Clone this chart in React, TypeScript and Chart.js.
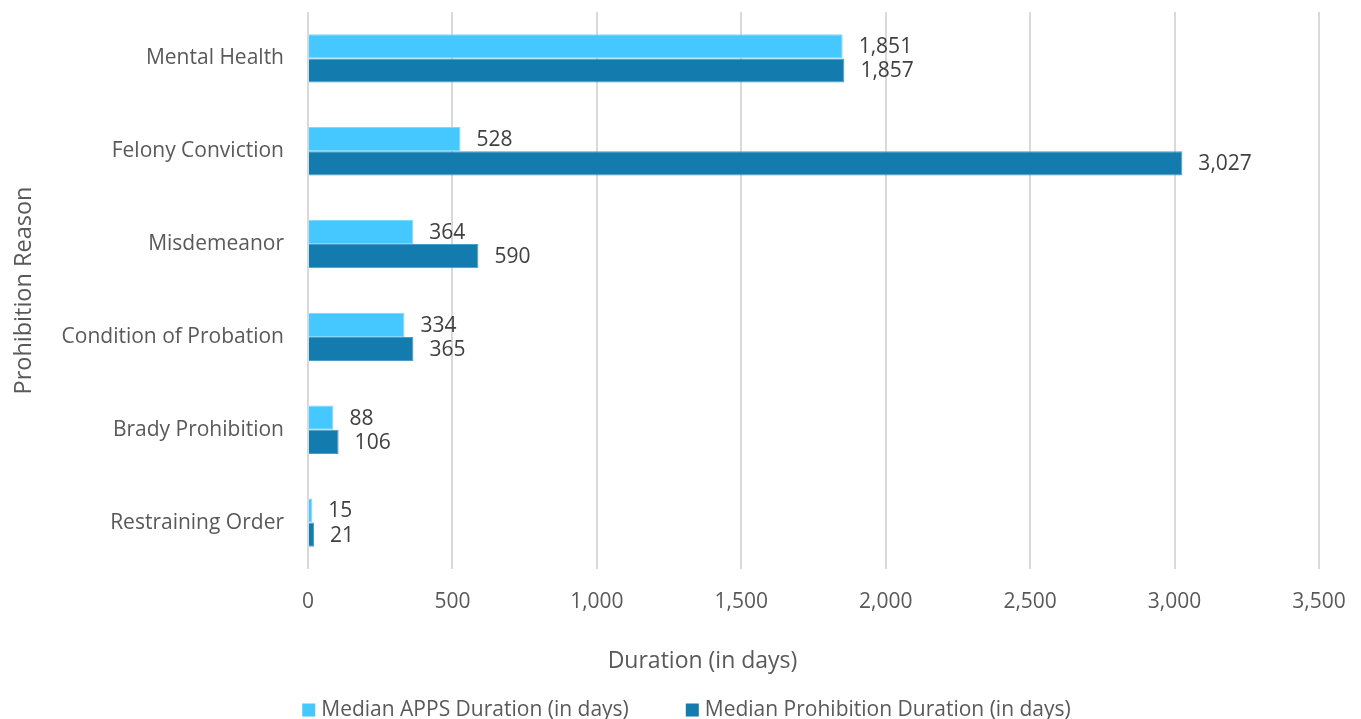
import React, { useEffect, useRef } from "react";
import { Chart, registerables } from "chart.js";

Chart.register(...registerables);

const categories = [
  "Mental Health",
  "Felony Conviction",
  "Misdemeanor",
  "Condition of Probation",
  "Brady Prohibition",
  "Restraining Order",
];
const appsDuration = [1851, 528, 364, 334, 88, 15];
const prohibitionDuration = [1857, 3027, 590, 365, 106, 21];
const seriesNames = [
  "Median APPS Duration (in days)",
  "Median Prohibition Duration (in days)",
];
const xTitle = "Duration (in days)";
const yTitle = "Prohibition Reason";

const FONT = "'Open Sans', 'Noto Sans', sans-serif";
const TEXT = "#595959";
const LABEL_TEXT = "#404040";
const LIGHT = "#45C8FF";
const DARK = "#137BAD";

const fmt = (v: number) => v.toLocaleString("en-US");

// Writes each bar's value just past its end.
const valueLabels = {
  id: "valueLabels",
  afterDatasetsDraw(chart: any) {
    const ctx = chart.ctx;
    ctx.save();
    ctx.font = `21px ${FONT}`;
    ctx.fillStyle = LABEL_TEXT;
    ctx.textAlign = "left";
    ctx.textBaseline = "middle";
    chart.data.datasets.forEach((ds: any, i: number) => {
      const meta = chart.getDatasetMeta(i);
      meta.data.forEach((el: any, j: number) => {
        ctx.fillText(fmt(ds.data[j]), el.x + 16, el.y + 1);
      });
    });
    ctx.restore();
  },
};

// Horizontal axis title and legend under the plot.
const footer = {
  id: "footer",
  afterDraw(chart: any) {
    const ctx = chart.ctx;
    const W = chart.width;
    ctx.save();
    ctx.fillStyle = TEXT;
    ctx.textBaseline = "middle";
    ctx.font = `23px ${FONT}`;
    ctx.textAlign = "center";
    ctx.fillText(xTitle, W / 2 + 22, 661);

    ctx.font = `21px ${FONT}`;
    const box = 13;
    const gap = 6;
    const itemGap = 57;
    const widths = chart.data.datasets.map((d: any) => ctx.measureText(d.label).width);
    const total =
      widths.reduce((a: number, b: number) => a + b, 0) +
      chart.data.datasets.length * (box + gap) +
      itemGap * (chart.data.datasets.length - 1);
    let x = W / 2 + 6 - total / 2;
    const y = 710;
    ctx.textAlign = "left";
    chart.data.datasets.forEach((d: any, i: number) => {
      ctx.fillStyle = d.backgroundColor;
      ctx.fillRect(x, y - box / 2, box, box);
      x += box + gap;
      ctx.fillStyle = TEXT;
      ctx.fillText(d.label, x, y);
      x += widths[i] + itemGap;
    });
    ctx.restore();
  },
};

export default function App() {
  const ref = useRef<HTMLCanvasElement>(null);

  useEffect(() => {
    if (!ref.current) return;
    const chart = new Chart(ref.current, {
      type: "bar",
      data: {
        labels: categories,
        datasets: [
          {
            label: seriesNames[0],
            data: appsDuration,
            backgroundColor: LIGHT,
            borderColor: "#7ED8FF",
            borderWidth: 1,
            categoryPercentage: 0.52,
            barPercentage: 1,
          },
          {
            label: seriesNames[1],
            data: prohibitionDuration,
            backgroundColor: DARK,
            borderColor: "#4A9CC6",
            borderWidth: 1,
            categoryPercentage: 0.52,
            barPercentage: 1,
          },
        ],
      },
      options: {
        indexAxis: "y",
        animation: false,
        responsive: false,
        layout: { padding: { left: 0, right: 42, top: 12, bottom: 0 } },
        plugins: {
          legend: { display: false },
          tooltip: { enabled: false },
        },
        scales: {
          y: {
            grid: { display: false, drawTicks: false },
            border: { display: false },
            ticks: {
              color: TEXT,
              font: { family: FONT, size: 21 },
              padding: 24,
            },
            title: {
              display: true,
              text: yTitle,
              color: TEXT,
              font: { family: FONT, size: 23.5 },
              padding: { top: 10, bottom: 0 },
            },
            afterFit(scale: any) {
              scale.width = 308;
              scale.paddingTop = 0;
              scale.paddingBottom = 0;
            },
          },
          x: {
            min: 0,
            max: 3500,
            grid: { color: "#D9D9D9", lineWidth: 2, drawTicks: false },
            border: { display: false },
            ticks: {
              stepSize: 500,
              color: TEXT,
              font: { family: FONT, size: 21 },
              padding: 20,
              callback: (v: any) => fmt(Number(v)),
            },
            afterFit(scale: any) {
              scale.height = 150;
              scale.paddingLeft = 0;
              scale.paddingRight = 0;
            },
          },
        },
      },
      plugins: [valueLabels, footer],
    });
    return () => chart.destroy();
  }, []);

  return (
    <div style={{ position: "fixed", left: 0, top: 0, width: 1361, height: 719, background: "#fff" }}>
      <canvas ref={ref} width={1361} height={719} />
    </div>
  );
}
